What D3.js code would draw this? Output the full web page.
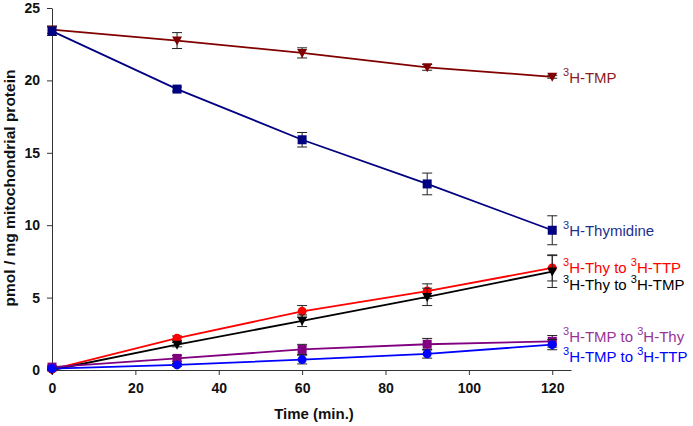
<!DOCTYPE html>
<html><head><meta charset="utf-8">
<script src="https://cdn.jsdelivr.net/npm/d3@7"></script>
<style>body{margin:0;background:#fff;}svg{display:block;}</style>
</head><body>
<svg id="c" width="693" height="426"></svg>
<script>
const times = [0, 30, 60, 90, 120];
const xTicks = [0, 20, 40, 60, 80, 100, 120];
const yTicks = [0, 5, 10, 15, 20, 25];

const tmpVals = [23.5, 22.75, 21.9, 20.9, 20.25];
const tmpErr  = [0.25, 0.55, 0.35, 0.2, 0.1];
const thdVals = [23.4, 19.4, 15.9, 12.85, 9.65];
const thdErr  = [0.3, 0.15, 0.5, 0.75, 1.0];
const thyTtpVals = [0.05, 2.2, 4.05, 5.45, 7.05];
const thyTtpErr  = [0.05, 0.15, 0.4, 0.5, 0.9];
const thyTmpVals = [0.0, 1.75, 3.4, 5.05, 6.8];
const thyTmpErr  = [0.05, 0.15, 0.4, 0.6, 1.1];
const tmpThyVals = [0.2, 0.8, 1.42, 1.78, 1.98];
const tmpThyErr  = [0.1, 0.2, 0.35, 0.4, 0.4];
const tmpTtpVals = [0.1, 0.35, 0.72, 1.12, 1.75];
const tmpTtpErr  = [0.05, 0.1, 0.3, 0.3, 0.35];

const series = [
  {label:[["3","H-TMP"]], vals:tmpVals, err:tmpErr, line:"#800000", fill:"#800000", text:"#8B1A1A", shape:"tri", ly:83},
  {label:[["3","H-Thymidine"]], vals:thdVals, err:thdErr, line:"#000080", fill:"#000080", text:"#1F2F8F", shape:"sq", ly:236},
  {label:[["3","H-Thy to "],["3","H-TTP"]], vals:thyTtpVals, err:thyTtpErr, line:"#FF0000", fill:"#FF0000", text:"#FF0000", shape:"circ", ly:273},
  {label:[["3","H-Thy to "],["3","H-TMP"]], vals:thyTmpVals, err:thyTmpErr, line:"#000000", fill:"#000000", text:"#000000", shape:"tri", ly:290},
  {label:[["3","H-TMP to "],["3","H-Thy"]], vals:tmpThyVals, err:tmpThyErr, line:"#800080", fill:"#800080", text:"#993399", shape:"sq", ly:341.5},
  {label:[["3","H-TMP to "],["3","H-TTP"]], vals:tmpTtpVals, err:tmpTtpErr, line:"#0000FF", fill:"#0000FF", text:"#0000FF", shape:"circ", ly:361.5}
];

const svg = d3.select("#c");
const x = d3.scaleLinear().domain([0, 124.5]).range([52, 571]);
const y = d3.scaleLinear().domain([0, 25]).range([370, 8]);

const xa = svg.append("g").attr("transform","translate(0,370)")
  .call(d3.axisBottom(x).tickValues(xTicks).tickSize(5).tickSizeOuter(0).tickPadding(8));
const ya = svg.append("g").attr("transform","translate(52,0)")
  .call(d3.axisLeft(y).tickValues(yTicks).tickSize(5).tickSizeOuter(0).tickPadding(7));
[xa, ya].forEach(g => {
  g.selectAll("path,line").attr("stroke","#333").attr("stroke-width",1);
  g.selectAll("text").attr("font-family","Liberation Sans, Arial, sans-serif")
    .attr("font-weight","bold").attr("font-size","14px").attr("fill","#111");
});

svg.append("text").attr("x",314).attr("y",419).attr("text-anchor","middle")
  .attr("font-family","Liberation Sans, Arial, sans-serif").attr("font-weight","bold")
  .attr("font-size","15px").attr("fill","#111").text("Time (min.)");
svg.append("text").attr("transform","translate(15,188) rotate(-90)").attr("text-anchor","middle")
  .attr("font-family","Liberation Sans, Arial, sans-serif").attr("font-weight","bold")
  .attr("font-size","15.5px").attr("fill","#111").text("pmol / mg mitochondrial protein");

const line = d3.line().x((d,i)=>x(times[i])).y(d=>y(d));

series.forEach(s => {
  const g = svg.append("g");
  g.append("path").attr("d", line(s.vals)).attr("fill","none")
    .attr("stroke", s.line).attr("stroke-width", 1.8);
  s.vals.forEach((v,i) => {
    const e = s.err[i];
    const cx = x(times[i]);
    if (e <= 0) return;
    const y1 = y(v+e), y2 = y(v-e);
    g.append("line").attr("x1",cx).attr("x2",cx).attr("y1",y1).attr("y2",y2).attr("stroke","#222").attr("stroke-width",1);
    [y1,y2].forEach(yy => g.append("line").attr("x1",cx-5).attr("x2",cx+5).attr("y1",yy).attr("y2",yy).attr("stroke","#222").attr("stroke-width",1));
  });
  s.vals.forEach((v,i) => {
    const cx = x(times[i]), cy = y(v);
    if (s.shape === "sq") {
      g.append("rect").attr("x",cx-4.5).attr("y",cy-4.5).attr("width",9).attr("height",9).attr("fill",s.fill);
    } else if (s.shape === "circ") {
      g.append("circle").attr("cx",cx).attr("cy",cy).attr("r",4.5).attr("fill",s.fill);
    } else {
      g.append("path").attr("d",`M${cx-5},${cy-4}L${cx+5},${cy-4}L${cx},${cy+5}Z`).attr("fill",s.fill);
    }
  });
  const t = svg.append("text").attr("x", 563).attr("y", s.ly)
    .attr("font-family","Liberation Sans, Arial, sans-serif").attr("font-size","15px").attr("fill", s.text);
  s.label.forEach(part => {
    t.append("tspan").attr("font-size","11px").attr("dy",-7).text(part[0]);
    t.append("tspan").attr("dy",7).text(part[1]);
  });
});
</script>
</body></html>
